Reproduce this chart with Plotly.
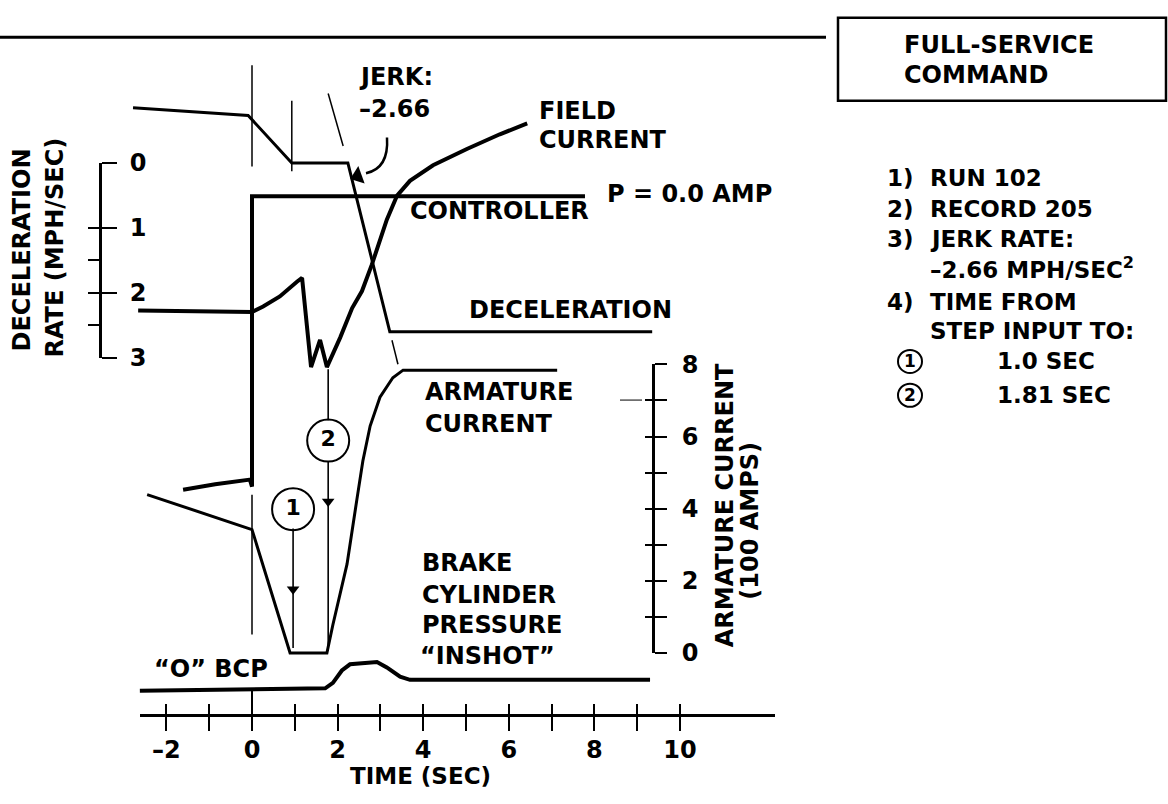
import plotly.graph_objects as go

# ---- axis ticks ----
time_ticks = list(range(-2, 11))
time_labels = ["–2", "", "0", "", "2", "", "4", "", "6", "", "8", "", "10"]
decel_ticks = [0, 1, 2, 3]
decel_minor = [1.5, 2.5]
amp_ticks = list(range(0, 9))
amp_labels = ["0", "", "2", "", "4", "", "6", "", "8"]

# deceleration rate (mph/sec), left scale
decel_t = [-2.78, -0.09, 0.93, 2.24, 3.22, 9.35]
decel_v = [-0.85, -0.73, 0.0, 0.0, 2.6, 2.6]

# jerk slope construction line (same scale), two short pieces
jerk_hi_t = [1.78, 2.13]
jerk_hi_v = [-1.07, -0.26]
jerk_lo_t = [3.27, 3.41]
jerk_lo_v = [2.73, 3.10]

# armature current (100 amps), right scale
arm_t = [-2.45, 0.0, 0.89, 1.75, 1.89, 2.22, 2.45, 2.59, 2.76, 2.99, 3.29, 3.53, 7.13]
arm_v = [4.39, 3.42, 0.0, 0.0, 0.78, 2.46, 4.25, 5.32, 6.29, 7.09, 7.63, 7.84, 7.84]

# unscaled traces, relative level 0-10
field_t = [-2.66, 0.0, 0.26, 0.65, 1.05, 1.17, 1.38, 1.59, 1.75, 2.06, 2.34, 2.57,
           2.80, 3.15, 3.39, 3.69, 4.23, 5.02, 5.79, 6.43]
field_v = [6.18, 6.16, 6.23, 6.36, 6.55, 6.60, 5.45, 5.80, 5.45, 5.83, 6.21, 6.43,
           6.77, 7.35, 7.66, 7.85, 8.05, 8.26, 8.45, 8.59]
ctrl_t = [-1.61, -0.86, -0.05, 0.0, 0.0, 7.78]
ctrl_v = [3.87, 3.94, 4.00, 3.91, 7.65, 7.65]
bcp_t = [-2.62, 1.71, 1.89, 2.10, 2.29, 2.59, 2.92, 3.15, 3.46, 3.69, 9.30]
bcp_v = [1.28, 1.31, 1.38, 1.54, 1.62, 1.63, 1.65, 1.58, 1.46, 1.42, 1.42]

# step-input markers (sec) from the notes
mark_t = [0.96, 1.78]
mark_txt = ["1", "2"]

# ---- page geometry ----
W, H = 1168, 804
FONT = "DejaVu Sans"
T0, SPS = 252.0, 42.8          # px of t=0, px per second
D0, SPD = 154.3, 67.3          # px of decel 0, px per mph/sec
A0, SPA = 662.0, 37.375        # px of 0 amps, px per 100 A
REL = H / 10.0


def px(x):
    return x / W


def py(y):
    return 1 - y / H


def f(size=24):
    return dict(family=FONT, size=size, color="black", weight="bold")


def txt(s, x, y, anchor="left", size=24, angle=0):
    return dict(text=s, x=px(x), y=py(y), xref="paper", yref="paper", xanchor=anchor,
                yanchor="middle", showarrow=False, textangle=angle, font=f(size))


def amp(ypx):
    return (A0 - ypx) / SPA


def rel(ypx):
    return (H - ypx) / REL


def dec(ypx):
    return (ypx - D0) / SPD


line = dict(color="black")
fig = go.Figure()
fig.add_trace(go.Scatter(x=decel_t, y=decel_v, mode="lines", line=dict(line, width=3), yaxis="y"))
fig.add_trace(go.Scatter(x=jerk_hi_t, y=jerk_hi_v, mode="lines", line=dict(line, width=1.5), yaxis="y"))
fig.add_trace(go.Scatter(x=jerk_lo_t, y=jerk_lo_v, mode="lines", line=dict(line, width=1.5), yaxis="y"))
fig.add_trace(go.Scatter(x=arm_t, y=arm_v, mode="lines", line=dict(line, width=3), yaxis="y2"))
fig.add_trace(go.Scatter(x=field_t, y=field_v, mode="lines", line=dict(line, width=4), yaxis="y3"))
fig.add_trace(go.Scatter(x=ctrl_t, y=ctrl_v, mode="lines", line=dict(line, width=4), yaxis="y3"))
fig.add_trace(go.Scatter(x=bcp_t, y=bcp_v, mode="lines", line=dict(line, width=4), yaxis="y3"))
fig.add_trace(go.Scatter(x=mark_t, y=[amp(513), amp(442)], mode="markers+text", text=mark_txt,
                         textposition="middle center", textfont=f(22),
                         marker=dict(symbol="circle-open", size=42, color="black", line=dict(width=2)),
                         yaxis="y2"))
# arrow heads on the step-input lines
fig.add_trace(go.Scatter(x=mark_t, y=[amp(596), amp(505)], mode="markers", yaxis="y2",
                         marker=dict(symbol="triangle-down", size=11, color="black")))
# head of the curved jerk pointer
fig.add_trace(go.Scatter(x=[2.47], y=[dec(168)], mode="markers", yaxis="y",
                         marker=dict(symbol="triangle-left", size=16, angle=-20, color="black")))
# empty traces so the printed scales get drawn
for xa, ya in [("x2", "y4"), ("x3", "y5"), ("x2", "y6"), ("x3", "y7")]:
    fig.add_trace(go.Scatter(x=[None], y=[None], xaxis=xa, yaxis=ya))
fig.update_traces(showlegend=False, hoverinfo="skip")

shapes = [
    # header rule and command box
    dict(type="line", xref="paper", yref="paper", x0=0, x1=px(826), y0=py(24), y1=py(24),
         line=dict(color="black", width=3)),
    dict(type="rect", xref="paper", yref="paper", x0=px(838), x1=px(1166), y0=py(4), y1=py(90),
         line=dict(color="black", width=2.5)),
    # thin timing lines
    dict(type="line", xref="x", yref="y3", x0=0, x1=0, y0=rel(53), y1=rel(158), line=dict(color="black", width=1.5)),
    dict(type="line", xref="x", yref="y3", x0=0.93, x1=0.93, y0=rel(90), y1=rel(163), line=dict(color="black", width=1.5)),
    dict(type="line", xref="x", yref="y3", x0=0, x1=0, y0=rel(498), y1=rel(643), line=dict(color="black", width=1.5)),
    dict(type="line", xref="x", yref="y3", x0=0, x1=0, y0=rel(700), y1=rel(726), line=dict(color="black", width=2)),
    # step-input arrow shafts
    dict(type="line", xref="x", yref="y2", x0=mark_t[0], x1=mark_t[0], y0=amp(533), y1=amp(657), line=dict(color="black", width=1.6)),
    dict(type="line", xref="x", yref="y2", x0=mark_t[1], x1=mark_t[1], y0=amp(368), y1=amp(421), line=dict(color="black", width=1.6)),
    dict(type="line", xref="x", yref="y2", x0=mark_t[1], x1=mark_t[1], y0=amp(463), y1=amp(660), line=dict(color="black", width=1.6)),
    # curved jerk pointer
    dict(type="path", xref="paper", yref="paper",
         path=f"M {px(387)} {py(128)} Q {px(389)} {py(160)} {px(366)} {py(165)}",
         line=dict(color="black", width=2.5)),
    # stray mark by the 7 tick
    dict(type="line", xref="paper", yref="paper", x0=px(620), x1=px(642), y0=py(400), y1=py(400),
         line=dict(color="black", width=1)),
]
# list circles
for cy in (360, 395):
    shapes.append(dict(type="circle", xref="paper", yref="paper", x0=px(898), x1=px(922),
                       y0=py(cy + 12), y1=py(cy - 12), line=dict(color="black", width=2)))

ann = [
    txt("JERK:", 357, 65), txt("–2.66", 357, 98),
    txt("FIELD", 537, 100), txt("CURRENT", 537, 131),
    txt("CONTROLLER", 408, 204), txt("P = 0.0 AMP", 605, 187),
    txt("DECELERATION", 467, 307),
    txt("ARMATURE", 423, 392), txt("CURRENT", 423, 425),
    txt("BRAKE", 420, 569), txt("CYLINDER", 420, 602), txt("PRESSURE", 420, 633),
    txt("“INSHOT”", 418, 665),
    txt("“O” BCP", 152, 679),
    txt("TIME (SEC)", 420, 790, anchor="center", size=23),
    txt("DECELERATION", 22, 245, anchor="center", angle=-90),
    txt("RATE (MPH/SEC)", 55, 242, anchor="center", angle=-90),
    txt("ARMATURE CURRENT", 725, 509, anchor="center", angle=-90),
    txt("(100 AMPS)", 750, 525, anchor="center", angle=-90),
    txt("FULL-SERVICE", 902, 32), txt("COMMAND", 902, 63),
    txt("1)", 885, 170, size=23), txt("RUN 102", 928, 170, size=23),
    txt("2)", 885, 202, size=23), txt("RECORD 205", 928, 202, size=23),
    txt("3)", 885, 233, size=23), txt("JERK RATE:", 928, 233, size=23),
    txt("–2.66 MPH/SEC<sup>2</sup>", 928, 263, size=23),
    txt("4)", 885, 298, size=23), txt("TIME FROM", 928, 298, size=23),
    txt("STEP INPUT TO:", 928, 328, size=23),
    txt("1", 910, 360, anchor="center", size=17), txt("1.0 SEC", 995, 360, size=23),
    txt("2", 910, 395, anchor="center", size=17), txt("1.81 SEC", 995, 395, size=23),
]

hidden = dict(visible=False, domain=[0, 1])
scale = dict(showgrid=False, zeroline=False, linecolor="black", tickcolor="black", tickfont=f(24))
fig.update_layout(
    width=W, height=H, margin=dict(l=0, r=0, t=0, b=0, pad=0),
    paper_bgcolor="white", plot_bgcolor="rgba(0,0,0,0)", showlegend=False,
    shapes=shapes, annotations=ann,
    xaxis=dict(hidden, range=[-T0 / SPS, (W - T0) / SPS]),
    yaxis=dict(hidden, range=[(H - D0) / SPD, -D0 / SPD]),
    yaxis2=dict(hidden, range=[(A0 - H) / SPA, A0 / SPA], overlaying="y"),
    yaxis3=dict(hidden, range=[0, 10], overlaying="y"),
    xaxis2=dict(scale, domain=[px(140), px(775)], range=[(140 - T0) / SPS, (775 - T0) / SPS],
                anchor="free", position=py(726), showline=True, linewidth=3, ticks="outside",
                ticklen=14, tickwidth=2, tickvals=time_ticks, ticktext=time_labels,
                ticklabelstandoff=-2),
    xaxis3=dict(scale, domain=[px(140), px(775)], range=[(140 - T0) / SPS, (775 - T0) / SPS],
                anchor="free", position=py(726), showline=False, ticks="inside",
                ticklen=11, tickwidth=2, tickvals=time_ticks, showticklabels=False),
    yaxis4=dict(scale, domain=[py(D0 + 3 * SPD), py(D0)], range=[3, 0], anchor="free",
                position=px(100), side="right", showline=True, linewidth=3, ticks="outside",
                ticklen=15, tickwidth=2, tickvals=decel_ticks, ticklabelstandoff=8),
    yaxis5=dict(scale, domain=[py(D0 + 3 * SPD), py(D0)], range=[3, 0], anchor="free",
                position=px(100), side="right", showline=False, ticks="inside",
                ticklen=12, tickwidth=2, tickvals=decel_ticks + decel_minor, showticklabels=False),
    yaxis6=dict(scale, domain=[py(A0), py(A0 - 8 * SPA)], range=[0, 8], anchor="free",
                position=px(653), side="right", showline=True, linewidth=3, ticks="outside",
                ticklen=12, tickwidth=2, tickvals=amp_ticks, ticktext=amp_labels,
                ticklabelstandoff=10),
    yaxis7=dict(scale, domain=[py(A0), py(A0 - 8 * SPA)], range=[0, 8], anchor="free",
                position=px(653), side="right", showline=False, ticks="inside",
                ticklen=8, tickwidth=2, tickvals=amp_ticks[1:], showticklabels=False),
)

fig.write_html("out.html", config={"displayModeBar": False},
               post_script="document.body.style.margin='0';")
